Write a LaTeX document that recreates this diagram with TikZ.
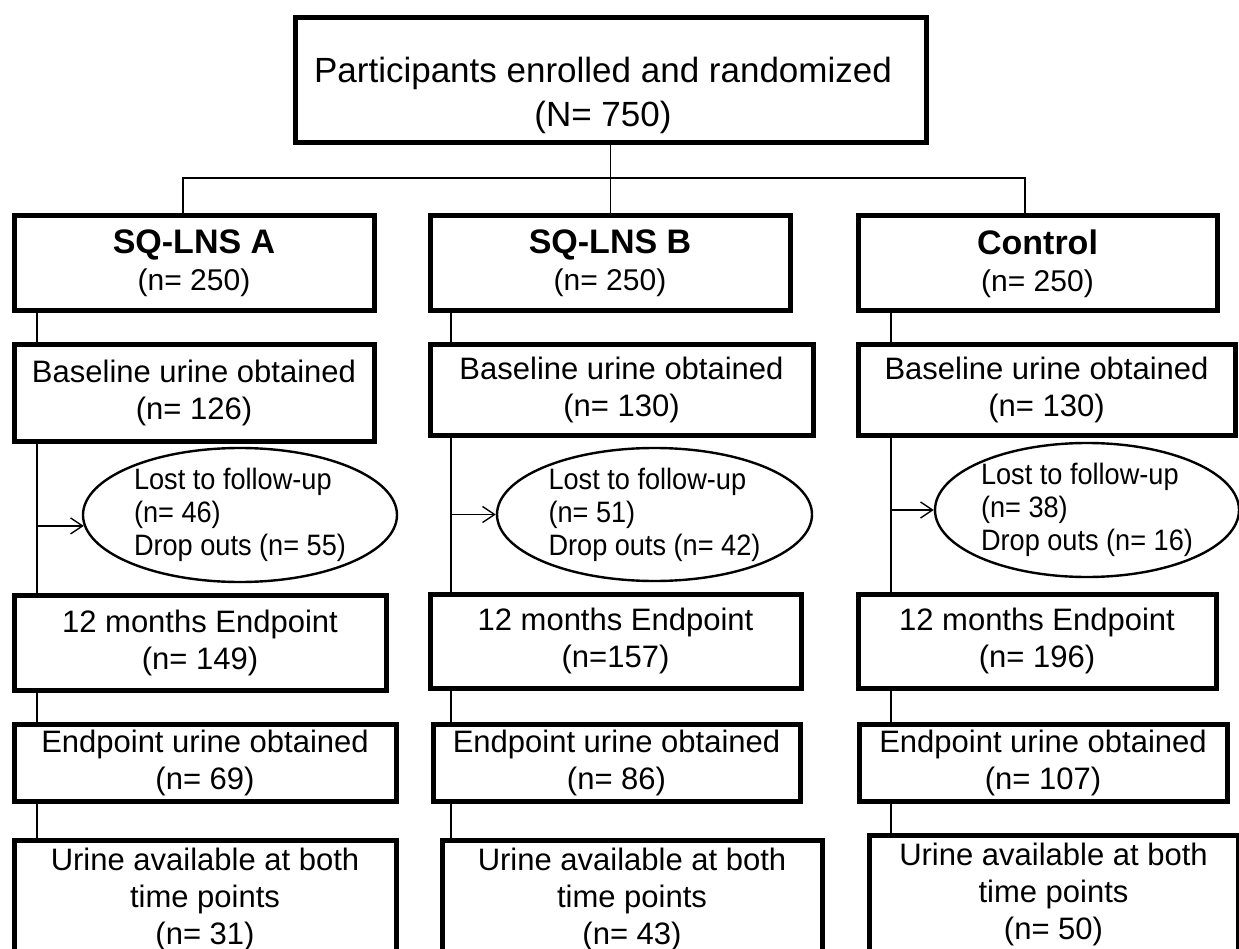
\documentclass[tikz,border=0pt]{standalone}
\usepackage{fontspec}
\setmainfont{Liberation Sans}
\newfontfamily\narrowfont[FakeStretch=0.92]{Liberation Sans}
\usetikzlibrary{shapes.geometric,arrows.meta}

\begin{document}
\begin{tikzpicture}[x=1pt,y=-1pt,
        box/.style={draw,line width=5pt,align=center,inner sep=0pt,font=\fontsize{31}{37}\selectfont},
        loss/.style={draw,ellipse,line width=2.4pt,align=left,inner sep=0pt,font=\narrowfont\fontsize{29.5}{33}\selectfont},
        link/.style={line width=1.4pt},
        arr/.style={line width=1.4pt,-{Straight Barb[length=12pt,width=16pt]}}]
        \useasboundingbox (0,0) rectangle (1239,949);

        % 定义坐标
        \coordinate (colA) at (37,0);
        \coordinate (colB) at (451,0);
        \coordinate (colC) at (891,0);
        \coordinate (busL) at (183,178);
        \coordinate (busR) at (1025,178);

        % 顶部方框
        \node[box,minimum width=631pt,minimum height=125pt] (top) at (610.5,80.5) {};
        \node[align=center,font=\fontsize{35}{44}\selectfont] (toptext) at (603,95.5) {Participants enrolled and randomized\\(N= 750)};

        % 分组
        \node[box,minimum width=360pt,minimum height=95pt,font=\fontsize{30}{37}\selectfont] (sqa) at (194,263.5) {{\fontsize{34}{37}\selectfont\bfseries SQ-LNS A}\\(n= 250)};
        \node[box,minimum width=360pt,minimum height=95pt,font=\fontsize{30}{37}\selectfont] (sqb) at (610,263.5) {{\fontsize{34}{37}\selectfont\bfseries SQ-LNS B}\\(n= 250)};
        \node[box,minimum width=359pt,minimum height=95pt,font=\fontsize{30}{37}\selectfont] (sqc) at (1037.5,263.5) {{\fontsize{34}{37}\selectfont\bfseries Control}\\(n= 250)};

        % 基线尿样
        \node[box,minimum width=360pt,minimum height=96pt] (basea) at (194,393) {Baseline urine obtained\\(n= 126)};
        \node[box,minimum width=383pt,minimum height=90pt] (baseb) at (621.5,390) {Baseline urine obtained\\(n= 130)};
        \node[box,minimum width=377pt,minimum height=90pt] (basec) at (1046.5,390) {Baseline urine obtained\\(n= 130)};

        % 失访
        \node[loss,minimum width=314pt,minimum height=134pt] (lossa) at (240,515) {Lost to follow-up\\(n= 46)\\Drop outs (n= 55)};
        \node[loss,minimum width=315pt,minimum height=133pt] (lossb) at (654.5,514.5) {Lost to follow-up\\(n= 51)\\Drop outs (n= 42)};
        \node[loss,minimum width=304pt,minimum height=134pt] (lossc) at (1087,510) {Lost to follow-up\\(n= 38)\\Drop outs (n= 16)};

        % 12个月终点
        \node[box,minimum width=372pt,minimum height=95pt] (enda) at (200,642.5) {12 months Endpoint\\(n= 149)};
        \node[box,minimum width=371pt,minimum height=94pt] (endb) at (615.5,641) {12 months Endpoint\\(n=157)};
        \node[box,minimum width=358pt,minimum height=94pt] (endc) at (1037,641) {12 months Endpoint\\(n= 196)};

        % 终点尿样
        \node[box,minimum width=382pt,minimum height=77pt] (urna) at (205,762.5) {Endpoint urine obtained\\(n= 69)};
        \node[box,minimum width=367pt,minimum height=77pt] (urnb) at (616.5,762.5) {Endpoint urine obtained\\(n= 86)};
        \node[box,minimum width=368pt,minimum height=77pt] (urnc) at (1043,762.5) {Endpoint urine obtained\\(n= 107)};

        % 两个时间点
        \node[box,minimum width=382pt,minimum height=118pt] (botha) at (205,899) {Urine available at both\\time points\\(n= 31)};
        \node[box,minimum width=380pt,minimum height=118pt] (bothb) at (632,899) {Urine available at both\\time points\\(n= 43)};
        \node[box,minimum width=369pt,minimum height=118pt] (bothc) at (1053.5,894) {Urine available at both\\time points\\(n= 50)};

        % 绘制连线
        \draw[link] (top.south) -- (sqb.north -| top.south);
        \draw[link] (sqa.north -| busL) -- (busL) -- (busR) -- (sqc.north -| busR);

        \draw[link] (sqa.south -| colA) -- (basea.north -| colA);
        \draw[link] (basea.south -| colA) -- (enda.north -| colA);
        \draw[link] (enda.south -| colA) -- (urna.north -| colA);
        \draw[link] (urna.south -| colA) -- (botha.north -| colA);
        \draw[arr] (lossa.184 -| colA) -- (lossa.184);

        \draw[link] (sqb.south -| colB) -- (baseb.north -| colB);
        \draw[link] (baseb.south -| colB) -- (endb.north -| colB);
        \draw[link] (endb.south -| colB) -- (urnb.north -| colB);
        \draw[link] (urnb.south -| colB) -- (bothb.north -| colB);
        \draw[arr] (lossb.west -| colB) -- (lossb.west);

        \draw[link] (sqc.south -| colC) -- (basec.north -| colC);
        \draw[link] (basec.south -| colC) -- (endc.north -| colC);
        \draw[link] (endc.south -| colC) -- (urnc.north -| colC);
        \draw[link] (urnc.south -| colC) -- (bothc.north -| colC);
        \draw[arr] (lossc.west -| colC) -- (lossc.west);
    \end{tikzpicture}
\end{document}
